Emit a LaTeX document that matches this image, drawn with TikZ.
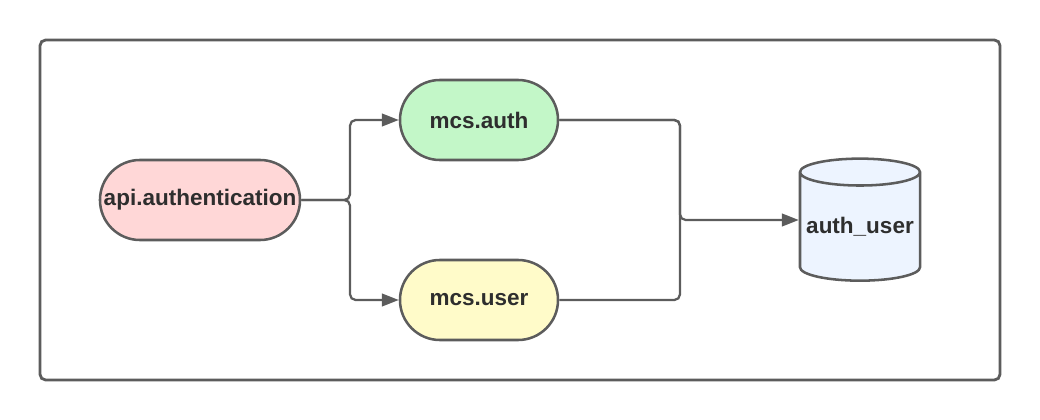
\documentclass[tikz,border=0pt]{standalone}
\usepackage{fontspec}
\setmainfont{Liberation Sans}
\usetikzlibrary{shapes.geometric,arrows.meta}
\definecolor{linegray}{HTML}{5C5C5C}
\definecolor{apipink}{HTML}{FFD7D7}
\definecolor{authgreen}{HTML}{C3F7C8}
\definecolor{useryellow}{HTML}{FFFBC9}
\definecolor{dbblue}{HTML}{EDF4FF}
\begin{document}
\begin{tikzpicture}[x=0.025cm, y=-0.025cm]
  \tikzset{service/.style={draw=linegray, line width=1.8pt, rounded corners=1cm, minimum height=2cm, inner sep=0pt, font=\fontsize{16}{19}\selectfont\bfseries, text=black!82},
    table/.style={draw=linegray, line width=1.8pt, fill=dbblue, cylinder, shape border rotate=90, aspect=0.25, minimum width=3cm, minimum height=3.05cm, inner sep=0pt, font=\fontsize{16}{19}\selectfont\bfseries, text=black!82},
    link/.style={draw=linegray, line width=1.6pt, rounded corners=4pt},
    arrow/.style={link, -{Triangle[length=12pt, width=9pt]}}}
  \useasboundingbox (0,0) rectangle (1040,420);
  \draw[linegray, line width=2pt, rounded corners=4pt] (40,40) rectangle (1000,380);

  \node[service, fill=apipink, minimum width=5cm] at (200,200) (api) {api.authentication};
  \node[service, fill=authgreen, minimum width=3.95cm] at (479,120) (auth) {mcs.auth};
  \node[service, fill=useryellow, minimum width=3.95cm] at (479,300) (user) {mcs.user};
  \node[table] at (860,227) (db) {auth\_user};
  \coordinate (split) at (350,200);
  \coordinate (merge) at (680,220);

  \draw[arrow] (api.east) -- (split) |- (auth.west);
  \draw[arrow] (api.east) -- (split) |- (user.west);
  \draw[link] (auth.east) -| (merge);
  \draw[link] (user.east) -| (merge);
  \draw[arrow] (auth.east) -| (merge) -- (merge -| db.west);
\end{tikzpicture}
\end{document}
